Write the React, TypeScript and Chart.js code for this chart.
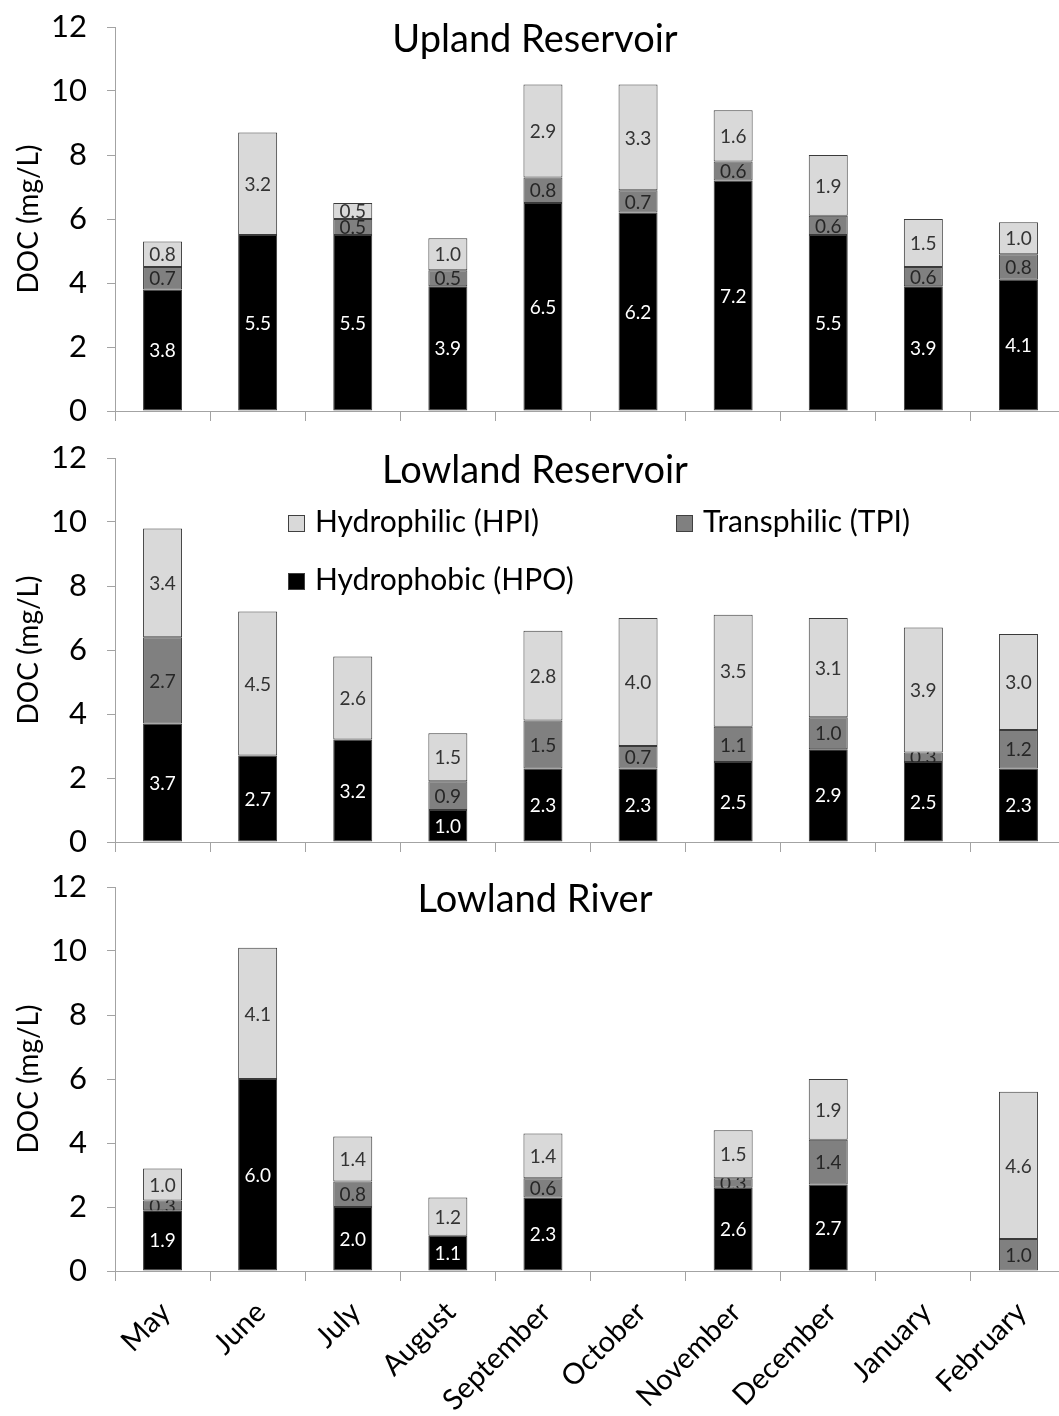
import React, { useEffect, useRef } from 'react';
import { Chart, registerables } from 'chart.js';

Chart.register(...registerables);

// ---------- data ----------
const months = ['May', 'June', 'July', 'August', 'September', 'October', 'November', 'December', 'January', 'February'];
const yMin = 0;
const yMax = 12;
const yStep = 2;

const seriesNames = ['Hydrophobic (HPO)', 'Transphilic (TPI)', 'Hydrophilic (HPI)'];

const uplandTitle = 'Upland Reservoir';
const uplandHPO = [3.8, 5.5, 5.5, 3.9, 6.5, 6.2, 7.2, 5.5, 3.9, 4.1];
const uplandTPI = [0.7, null, 0.5, 0.5, 0.8, 0.7, 0.6, 0.6, 0.6, 0.8];
const uplandHPI = [0.8, 3.2, 0.5, 1.0, 2.9, 3.3, 1.6, 1.9, 1.5, 1.0];

const lowResTitle = 'Lowland Reservoir';
const lowResHPO = [3.7, 2.7, 3.2, 1.0, 2.3, 2.3, 2.5, 2.9, 2.5, 2.3];
const lowResTPI = [2.7, null, null, 0.9, 1.5, 0.7, 1.1, 1.0, 0.3, 1.2];
const lowResHPI = [3.4, 4.5, 2.6, 1.5, 2.8, 4.0, 3.5, 3.1, 3.9, 3.0];

const riverTitle = 'Lowland River';
const riverHPO = [1.9, 6.0, 2.0, 1.1, 2.3, null, 2.6, 2.7, null, null];
const riverTPI = [0.3, null, 0.8, null, 0.6, null, 0.3, 1.4, null, 1.0];
const riverHPI = [1.0, 4.1, 1.4, 1.2, 1.4, null, 1.5, 1.9, null, 4.6];

// ---------- styles ----------
const FONT = "Lato, 'Open Sans', sans-serif";
const COLORS = ['#000000', '#808080', '#d9d9d9'];
const LABEL_COLORS = ['#ffffff', '#262626', '#333333'];
const AXIS_COLOR = '#a3a3a3';
const CANVAS_W = 1066;

const segmentLabels = {
  id: 'segmentLabels',
  afterDatasetsDraw(chart: any) {
    const ctx = chart.ctx;
    chart.data.datasets.forEach((ds: any, di: number) => {
      const meta = chart.getDatasetMeta(di);
      meta.data.forEach((bar: any, i: number) => {
        const v = ds.data[i];
        if (v == null || v === 0) return;
        const { x, y, base, width } = bar.getProps(['x', 'y', 'base', 'width'], true);
        const top = Math.min(y, base);
        const bot = Math.max(y, base);
        ctx.save();
        ctx.beginPath();
        ctx.rect(x - width / 2, top, width, bot - top);
        ctx.clip();
        ctx.fillStyle = LABEL_COLORS[di];
        ctx.font = `19px ${FONT}`;
        ctx.textAlign = 'center';
        ctx.textBaseline = 'middle';
        ctx.fillText(Number(v).toFixed(1), x, (top + bot) / 2 + 1);
        ctx.restore();
      });
    });
  },
};

function makeTitlePlugin(text: string) {
  return {
    id: 'panelTitle',
    afterDraw(chart: any) {
      const ctx = chart.ctx;
      ctx.save();
      ctx.font = `38px ${FONT}`;
      ctx.fillStyle = '#000';
      ctx.textAlign = 'center';
      ctx.textBaseline = 'alphabetic';
      ctx.fillText(text, 535, chart.chartArea.top + 25);
      ctx.restore();
    },
  };
}

const legendPlugin = {
  id: 'innerLegend',
  afterDraw(chart: any) {
    const ctx = chart.ctx;
    const top = chart.chartArea.top;
    const items = [
      { idx: 2, x: 288, dy: 57 },
      { idx: 1, x: 676, dy: 57 },
      { idx: 0, x: 288, dy: 115 },
    ];
    ctx.save();
    items.forEach((it) => {
      const sy = top + it.dy;
      ctx.fillStyle = COLORS[it.idx];
      ctx.fillRect(it.x, sy, 17, 17);
      ctx.strokeStyle = '#404040';
      ctx.lineWidth = 1;
      ctx.strokeRect(it.x + 0.5, sy + 0.5, 16, 16);
      ctx.fillStyle = '#000';
      ctx.font = `30px ${FONT}`;
      ctx.textAlign = 'left';
      ctx.textBaseline = 'alphabetic';
      ctx.fillText(seriesNames[it.idx], it.x + 27, sy + 17);
    });
    ctx.restore();
  },
};

type Panel = {
  title: string;
  hpo: (number | null)[];
  tpi: (number | null)[];
  hpi: (number | null)[];
  top: number;
  height: number;
  padTop: number;
  xAxisH: number;
  showLabels: boolean;
  legend: boolean;
};

const panels: Panel[] = [
  { title: uplandTitle, hpo: uplandHPO, tpi: uplandTPI, hpi: uplandHPI, top: 0, height: 430, padTop: 27, xAxisH: 19, showLabels: false, legend: false },
  { title: lowResTitle, hpo: lowResHPO, tpi: lowResTPI, hpi: lowResHPI, top: 430, height: 430, padTop: 28, xAxisH: 18, showLabels: false, legend: true },
  { title: riverTitle, hpo: riverHPO, tpi: riverTPI, hpi: riverHPI, top: 860, height: 556, padTop: 27, xAxisH: 145, showLabels: true, legend: false },
];

function zeroPadding(s: any) {
  s.paddingTop = 0;
  s.paddingBottom = 0;
  s.paddingLeft = 0;
  s.paddingRight = 0;
}

function buildConfig(p: Panel): any {
  const series = [p.hpo, p.tpi, p.hpi];
  return {
    type: 'bar',
    data: {
      labels: months,
      datasets: series.map((d, i) => ({
        label: seriesNames[i],
        data: d,
        backgroundColor: COLORS[i],
        borderColor: '#3a3a3a',
        borderWidth: 1,
        borderSkipped: false,
        categoryPercentage: 1,
        barPercentage: 0.41,
        stack: 'doc',
      })),
    },
    options: {
      responsive: false,
      animation: false,
      devicePixelRatio: 1,
      layout: { autoPadding: false, padding: { top: p.padTop, left: 0, right: 0, bottom: 0 } },
      plugins: {
        legend: { display: false },
        tooltip: { enabled: false },
        title: { display: false },
      },
      scales: {
        x: {
          stacked: true,
          offset: true,
          grid: {
            display: true,
            offset: true,
            drawOnChartArea: false,
            drawTicks: true,
            tickLength: 10,
            color: AXIS_COLOR,
          },
          border: { display: true, color: AXIS_COLOR, width: 1 },
          ticks: {
            display: p.showLabels,
            autoSkip: false,
            minRotation: 45,
            maxRotation: 45,
            padding: 14,
            labelOffset: 3,
            color: '#000',
            font: { family: FONT, size: 29 },
          },
          afterFit: (s: any) => {
            s.height = p.xAxisH;
            zeroPadding(s);
          },
        },
        y: {
          stacked: true,
          min: yMin,
          max: yMax,
          grid: {
            display: true,
            drawOnChartArea: false,
            drawTicks: true,
            tickLength: 8,
            color: AXIS_COLOR,
          },
          border: { display: true, color: AXIS_COLOR, width: 1 },
          ticks: {
            stepSize: yStep,
            padding: 20,
            color: '#000',
            font: { family: FONT, size: 31 },
          },
          title: {
            display: true,
            text: 'DOC (mg/L)',
            color: '#000',
            font: { family: FONT, size: 28 },
            padding: { top: 12, bottom: 0 },
          },
          afterFit: (s: any) => {
            s.width = 115;
            zeroPadding(s);
          },
        },
      },
    },
    plugins: [segmentLabels, makeTitlePlugin(p.title), ...(p.legend ? [legendPlugin] : [])],
  };
}

export default function App() {
  const refs = [useRef<HTMLCanvasElement>(null), useRef<HTMLCanvasElement>(null), useRef<HTMLCanvasElement>(null)];

  useEffect(() => {
    const charts = panels.map((p, i) => {
      const c = refs[i].current!;
      return new Chart(c, buildConfig(p));
    });
    return () => charts.forEach((c) => c.destroy());
  }, []);

  return (
    <div
      style={{
        position: 'absolute',
        left: 0,
        top: 0,
        width: 1059,
        height: 1416,
        overflow: 'hidden',
        background: '#fff',
      }}
    >
      {panels.map((p, i) => (
        <canvas
          key={i}
          ref={refs[i]}
          width={CANVAS_W}
          height={p.height}
          style={{ position: 'absolute', left: 0, top: p.top, width: CANVAS_W, height: p.height }}
        />
      ))}
    </div>
  );
}
